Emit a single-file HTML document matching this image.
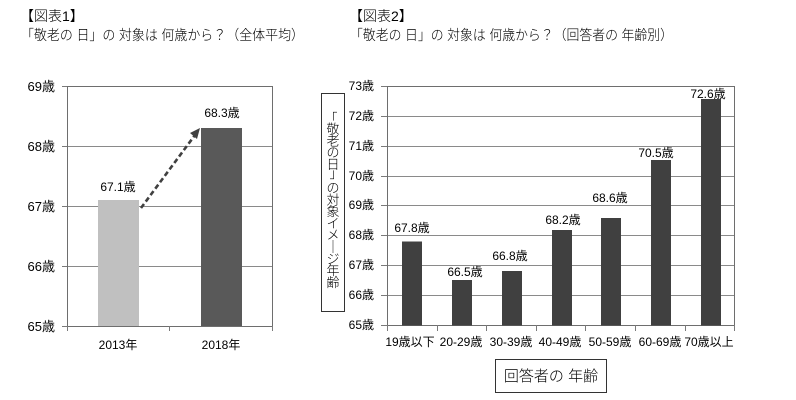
<!DOCTYPE html>
<html><head><meta charset="utf-8"><style>
html,body{margin:0;padding:0;background:#fff;}
svg{display:block;}
text{font-family:"Liberation Sans","Noto Sans CJK JP",sans-serif;fill:#000;}
.t{font-weight:300;}
</style></head><body>
<svg width="796" height="400" viewBox="0 0 796 400" xmlns="http://www.w3.org/2000/svg">
<rect width="796" height="400" fill="#fff"/>
<!-- Titles -->
<text class="t" x="20" y="21" font-size="14">【図表1】</text>
<text class="t" x="21" y="40" font-size="14" textLength="283" lengthAdjust="spacingAndGlyphs">「敬老の 日」の 対象は 何歳から？（全体平均）</text>
<text class="t" x="349" y="21" font-size="14">【図表2】</text>
<text class="t" x="350" y="40" font-size="14" textLength="323" lengthAdjust="spacingAndGlyphs">「敬老の 日」の 対象は 何歳から？（回答者の 年齢別）</text>

<!-- Left chart -->
<g stroke="#8a8a8a" stroke-width="1" fill="none">
<line x1="67" y1="146.5" x2="272" y2="146.5"/>
<line x1="67" y1="206.5" x2="272" y2="206.5"/>
<line x1="67" y1="266.5" x2="272" y2="266.5"/>
</g>
<rect x="67.5" y="86.5" width="205" height="240" fill="none" stroke="#6e6e6e"/>
<g stroke="#7a7a7a" stroke-width="1">
<line x1="62" y1="86.5" x2="67" y2="86.5"/>
<line x1="62" y1="146.5" x2="67" y2="146.5"/>
<line x1="62" y1="206.5" x2="67" y2="206.5"/>
<line x1="62" y1="266.5" x2="67" y2="266.5"/>
<line x1="62" y1="326.5" x2="67" y2="326.5"/>
<line x1="67.5" y1="326" x2="67.5" y2="331"/>
<line x1="169.5" y1="326" x2="169.5" y2="331"/>
<line x1="272.5" y1="326" x2="272.5" y2="331"/>
</g>
<rect x="98" y="200" width="41" height="126" fill="#c0c0c0"/>
<rect x="201" y="128" width="41" height="198" fill="#595959"/>
<g font-size="13" text-anchor="end">
<text x="55" y="91">69歳</text>
<text x="55" y="151">68歳</text>
<text x="55" y="211">67歳</text>
<text x="55" y="271">66歳</text>
<text x="55" y="331">65歳</text>
</g>
<g font-size="12" text-anchor="middle">
<text x="118" y="191">67.1歳</text>
<text x="222" y="117">68.3歳</text>
<text x="118" y="349">2013年</text>
<text x="221" y="349">2018年</text>
</g>
<line x1="141" y1="208" x2="195" y2="135" stroke="#404040" stroke-width="2.6" stroke-dasharray="5,3"/>
<polygon points="200,128 190,133 197,139" fill="#404040"/>

<!-- Right chart -->
<g stroke="#8a8a8a" stroke-width="1">
<line x1="387" y1="116.5" x2="734" y2="116.5"/>
<line x1="387" y1="146.5" x2="734" y2="146.5"/>
<line x1="387" y1="176.5" x2="734" y2="176.5"/>
<line x1="387" y1="205.5" x2="734" y2="205.5"/>
<line x1="387" y1="235.5" x2="734" y2="235.5"/>
<line x1="387" y1="265.5" x2="734" y2="265.5"/>
<line x1="387" y1="295.5" x2="734" y2="295.5"/>
</g>
<rect x="387.5" y="86.5" width="347" height="239" fill="none" stroke="#6e6e6e"/>
<g stroke="#7a7a7a" stroke-width="1">
<line x1="381" y1="86.5" x2="387" y2="86.5"/>
<line x1="381" y1="116.5" x2="387" y2="116.5"/>
<line x1="381" y1="146.5" x2="387" y2="146.5"/>
<line x1="381" y1="176.5" x2="387" y2="176.5"/>
<line x1="381" y1="205.5" x2="387" y2="205.5"/>
<line x1="381" y1="235.5" x2="387" y2="235.5"/>
<line x1="381" y1="265.5" x2="387" y2="265.5"/>
<line x1="381" y1="295.5" x2="387" y2="295.5"/>
<line x1="381" y1="325.5" x2="387" y2="325.5"/>
<line x1="387.5" y1="325" x2="387.5" y2="331"/>
<line x1="437.5" y1="325" x2="437.5" y2="331"/>
<line x1="486.5" y1="325" x2="486.5" y2="331"/>
<line x1="536.5" y1="325" x2="536.5" y2="331"/>
<line x1="585.5" y1="325" x2="585.5" y2="331"/>
<line x1="635.5" y1="325" x2="635.5" y2="331"/>
<line x1="685.5" y1="325" x2="685.5" y2="331"/>
<line x1="734.5" y1="325" x2="734.5" y2="331"/>
</g>
<g fill="#404040">
<rect x="402" y="241.5" width="20" height="84"/>
<rect x="452" y="280" width="20" height="45.5"/>
<rect x="502" y="271" width="20" height="54.5"/>
<rect x="552" y="230" width="20" height="95.5"/>
<rect x="601" y="218" width="20" height="107.5"/>
<rect x="651" y="160" width="20" height="165.5"/>
<rect x="701" y="99" width="20" height="226.5"/>
</g>
<g font-size="12" text-anchor="end">
<text x="374" y="90">73歳</text>
<text x="374" y="120">72歳</text>
<text x="374" y="150">71歳</text>
<text x="374" y="180">70歳</text>
<text x="374" y="209">69歳</text>
<text x="374" y="239">68歳</text>
<text x="374" y="269">67歳</text>
<text x="374" y="299">66歳</text>
<text x="374" y="329">65歳</text>
</g>
<g font-size="12" text-anchor="middle">
<text x="412" y="232">67.8歳</text>
<text x="465" y="276">66.5歳</text>
<text x="510" y="260">66.8歳</text>
<text x="563" y="224">68.2歳</text>
<text x="610" y="202">68.6歳</text>
<text x="656" y="157">70.5歳</text>
<text x="708" y="98">72.6歳</text>
</g>
<g font-size="12" text-anchor="middle">
<text x="410" y="346">19歳以下</text>
<text x="461" y="346">20-29歳</text>
<text x="511" y="346">30-39歳</text>
<text x="560" y="346">40-49歳</text>
<text x="610" y="346">50-59歳</text>
<text x="660" y="346">60-69歳</text>
<text x="709" y="346">70歳以上</text>
</g>
<!-- y axis title box -->
<rect x="321.5" y="93.5" width="23" height="218" fill="#fff" stroke="#333"/>
<g class="t" font-size="13" text-anchor="middle">
<text x="331" y="123">「</text>
<text x="333" y="133.5">敬</text>
<text x="333" y="145.3">老</text>
<text x="333" y="157.1">の</text>
<text x="333" y="168.9">日</text>
<text x="336" y="178">」</text>
<text x="333" y="192.5">の</text>
<text x="333" y="204.3">対</text>
<text x="333" y="216.1">象</text>
<text x="333" y="227.9">イ</text>
<text x="333" y="239.7">メ</text>
<text x="333" y="251.5">｜</text>
<text x="333" y="263.3">ジ</text>
<text x="333" y="275.1">年</text>
<text x="333" y="286.9">齢</text>
</g>
<!-- x axis title box -->
<rect x="495.5" y="359.5" width="111" height="33" fill="#fff" stroke="#333"/>
<text class="t" x="551" y="381" font-size="15" text-anchor="middle">回答者の 年齢</text>
</svg>
</body></html>
